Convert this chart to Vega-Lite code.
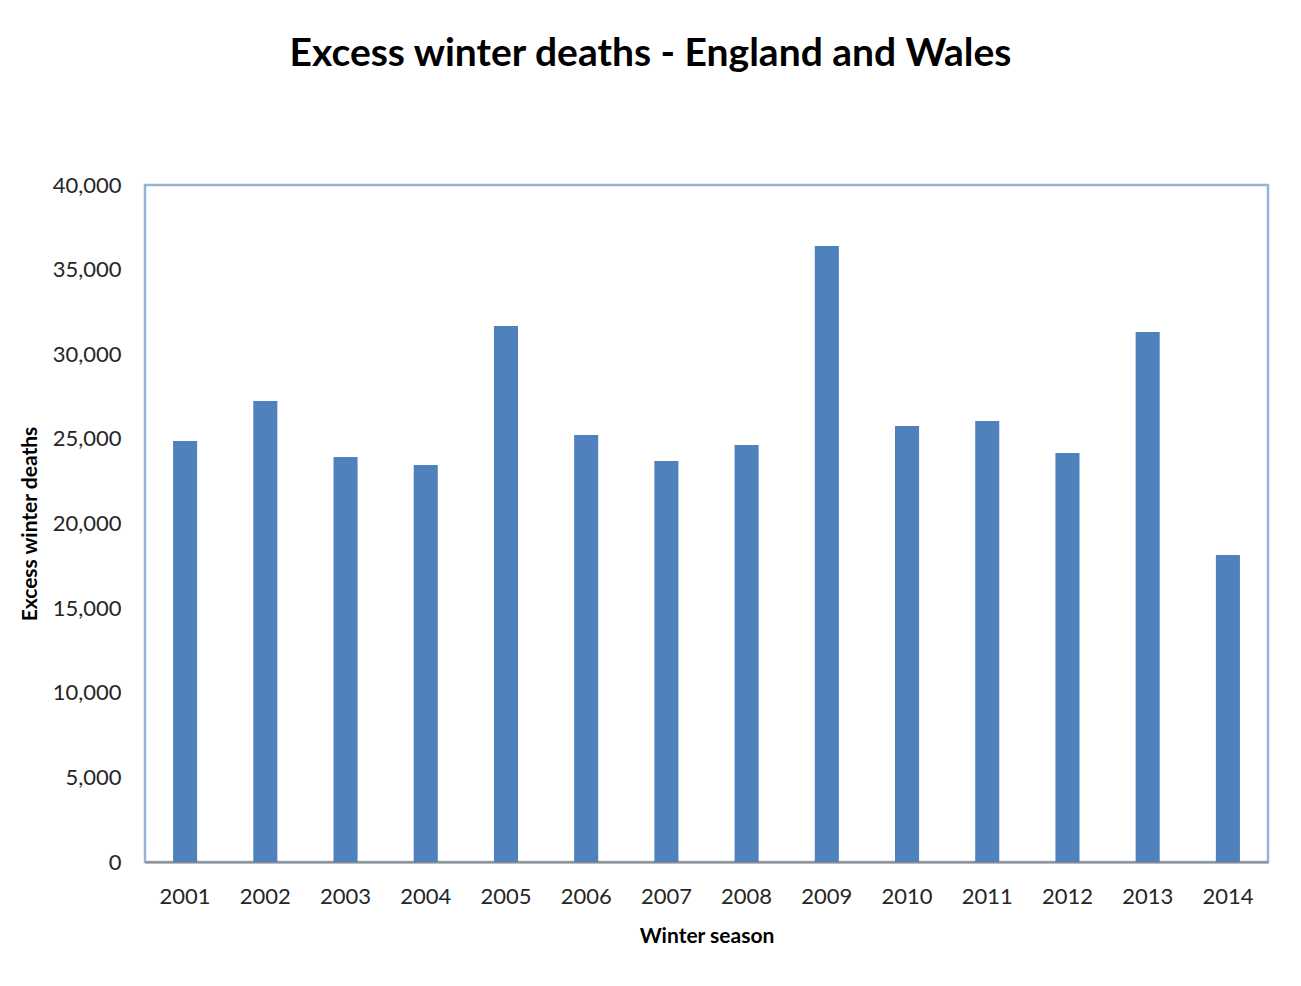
{
  "$schema": "https://vega.github.io/schema/vega-lite/v6.json",
  "autosize": {"type": "none"},
  "width": 1123,
  "height": 677,
  "padding": {"left": 145, "top": 185, "right": 33, "bottom": 124},
  "background": "white",
  "title": {
    "text": "Excess winter deaths - England and Wales",
    "font": "Lato",
    "fontSize": 39,
    "fontWeight": "bold",
    "color": "#000000",
    "anchor": "middle",
    "dx": -56,
    "offset": 100
  },
  "data": {
    "values": [
      {"season": "2001", "deaths": 24870},
      {"season": "2002", "deaths": 27240},
      {"season": "2003", "deaths": 23930},
      {"season": "2004", "deaths": 23460},
      {"season": "2005", "deaths": 31670},
      {"season": "2006", "deaths": 25230},
      {"season": "2007", "deaths": 23690},
      {"season": "2008", "deaths": 24640},
      {"season": "2009", "deaths": 36400},
      {"season": "2010", "deaths": 25760},
      {"season": "2011", "deaths": 26060},
      {"season": "2012", "deaths": 24170},
      {"season": "2013", "deaths": 31310},
      {"season": "2014", "deaths": 18140}
    ]
  },
  "mark": {"type": "bar", "color": "#4f81bd"},
  "encoding": {
    "x": {
      "field": "season",
      "type": "ordinal",
      "scale": {"paddingInner": 0.7, "paddingOuter": 0.35},
      "axis": {
        "title": "Winter season",
        "labelAngle": 0,
        "ticks": false,
        "labelPadding": 24,
        "labelFontSize": 22,
        "labelFont": "Lato",
        "labelColor": "#262626",
        "titleFont": "Lato",
        "titleFontSize": 21,
        "titleFontWeight": "bold",
        "titleColor": "#000000",
        "titlePadding": 18,
        "domainColor": "#8c8c8c",
        "domainWidth": 2
      }
    },
    "y": {
      "field": "deaths",
      "type": "quantitative",
      "scale": {"domain": [0, 40000], "nice": false},
      "axis": {
        "title": "Excess winter deaths",
        "values": [0, 5000, 10000, 15000, 20000, 25000, 30000, 35000, 40000],
        "format": ",d",
        "grid": false,
        "ticks": false,
        "domain": false,
        "labelPadding": 24,
        "labelFontSize": 22,
        "labelFont": "Lato",
        "labelColor": "#262626",
        "titleFont": "Lato",
        "titleFontSize": 21,
        "titleFontWeight": "bold",
        "titleColor": "#000000",
        "titlePadding": 12
      }
    }
  },
  "config": {
    "view": {"stroke": "#95b3d7", "strokeWidth": 2.5}
  }
}
